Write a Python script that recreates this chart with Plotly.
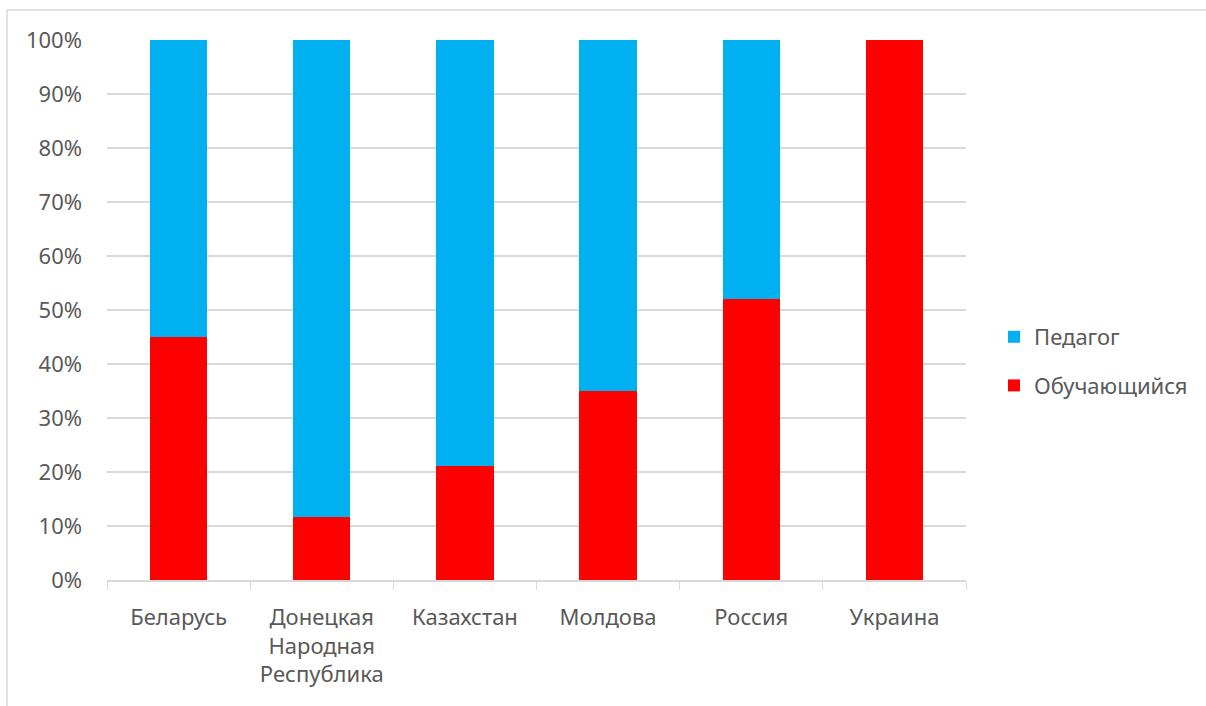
import plotly.graph_objects as go

categories = ["Беларусь", "Донецкая<br>Народная<br>Республика", "Казахстан", "Молдова", "Россия", "Украина"]
students = [45, 11.7, 21.2, 35, 52, 100]
teachers = [55, 88.3, 78.8, 65, 48, 0]
tick_vals = [0, 10, 20, 30, 40, 50, 60, 70, 80, 90, 100]
tick_text = [f"{v}%" for v in tick_vals]

W, H = 1206, 706
L, R, T, B = 107, 966, 40, 580

font = dict(family="Noto Sans, Open Sans, sans-serif", size=22, color="#595959")

fig = go.Figure()
fig.add_trace(go.Bar(x=categories, y=students, name="Обучающийся", marker=dict(color="#FF0000", line=dict(width=0)),
                     legendgroup="a", legendrank=2, width=0.4))
fig.add_trace(go.Bar(x=categories, y=teachers, name="Педагог", marker=dict(color="#00B0F0", line=dict(width=0)),
                     legendgroup="b", legendrank=1, width=0.4))

def px(x):
    return (x - L) / (R - L)

def py(y):
    return (B - y) / (B - T)

fig.update_layout(
    barmode="stack",
    width=W, height=H,
    margin=dict(l=L, r=W - R, t=T, b=H - B),
    plot_bgcolor="white", paper_bgcolor="white",
    font=font,
    showlegend=True,
    legend=dict(x=px(994), y=py(316), xanchor="left", yanchor="top",
                traceorder="grouped", tracegroupgap=17,
                font=font, bgcolor="rgba(0,0,0,0)"),
    xaxis=dict(type="category", tickson="boundaries", ticks="outside", ticklen=8, tickcolor="#D9D9D9",
               showline=True, linecolor="#D9D9D9", linewidth=1.5, showgrid=False,
               tickfont=font, ticklabelstandoff=17),
    yaxis=dict(range=[0, 100], tickvals=tick_vals, ticktext=tick_text, showgrid=True,
               gridcolor="#D9D9D9", gridwidth=1.5, zeroline=False, showline=False,
               tickfont=font, ticks="", ticklabelstandoff=24),
    bargap=0.6,
    shapes=[dict(type="rect", xref="paper", yref="paper", x0=px(7), x1=px(1212), y0=py(712), y1=py(10),
                 line=dict(color="#D9D9D9", width=1.5), layer="below")],
)

fig.write_html("out.html", config={"displayModeBar": False},
               post_script="document.body.style.margin='0';document.body.style.padding='0';")
